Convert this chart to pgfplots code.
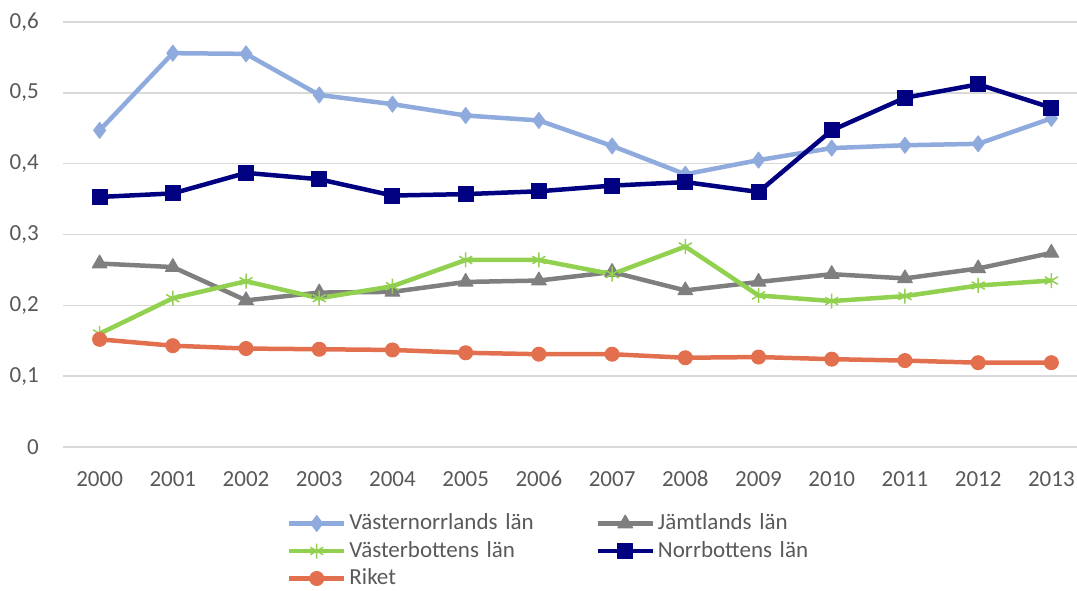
\documentclass[border=0pt]{standalone}
\usepackage{pgfplots}
\pgfplotsset{compat=1.18}
\usepackage{fontspec}
\setmainfont{Carlito}
\definecolor{cVn}{HTML}{8FAADC}
\definecolor{cJa}{HTML}{7F7F7F}
\definecolor{cVb}{HTML}{92D050}
\definecolor{cNb}{HTML}{000080}
\definecolor{cRi}{HTML}{E2704F}
\definecolor{cGrid}{HTML}{D9D9D9}
\definecolor{cTxt}{HTML}{595959}
\begin{document}
\fontsize{23}{27.6}\selectfont
\begin{tikzpicture}
\begin{axis}[
  scale only axis,
  width=1014pt, height=425pt,
  xmin=-0.5, xmax=13.35,
  ymin=0, ymax=0.6,
  clip=false,
  axis line style={draw=none},
  major tick length=0pt,
  xtick={0,1,2,3,4,5,6,7,8,9,10,11,12,13},
  xticklabels={2000,2001,2002,2003,2004,2005,2006,2007,2008,2009,2010,2011,2012,2013},
  ytick={0,0.1,0.2,0.3,0.4,0.5,0.6},
  /pgf/number format/use comma,
  /pgf/number format/fixed,
  /pgf/number format/precision=1,
  /pgf/number format/assume math mode=true,
  yticklabel style={inner sep=0pt, anchor=east, xshift=-24pt, text=cTxt, font=\fontsize{23}{27.6}\selectfont},
  xticklabel style={inner sep=0pt, anchor=north, yshift=-24pt, text=cTxt, font=\fontsize{23}{27.6}\selectfont},
  ymajorgrids=true,
  major grid style={draw=cGrid, line width=1.5pt},
  every axis plot/.append style={line width=4.5pt, line join=round},
  legend columns=2,
  legend cell align=left,
  legend image code/.code={\draw[#1,mark repeat=2,mark phase=2] plot coordinates {(0pt,0pt) (27.5pt,0pt) (55pt,0pt)};},
  legend style={at={(axis description cs:0.2209,-0.1600)}, anchor=north west,
    draw=none, fill=none, inner sep=0pt, outer sep=0pt, row sep=11.5pt,
    font=\fontsize{23}{27.6}\selectfont, text=cTxt,
    nodes={inner sep=0pt, text width=246pt, text height=14pt, text depth=2pt},
    /tikz/every odd column/.append style={column sep=3pt}},
]
\addplot[color=cVn, mark=diamond*, mark size=8pt, mark options={solid, line width=1pt, fill=cVn, draw=cVn}] coordinates {
(0,0.447) (1,0.556) (2,0.555) (3,0.497) (4,0.484) (5,0.468) (6,0.461) (7,0.425) (8,0.385) (9,0.405) (10,0.422) (11,0.426) (12,0.428) (13,0.464)};
\addlegendentry{Västernorrlands län}
\addplot[color=cJa, mark=triangle*, mark size=8.5pt, mark options={solid, line width=1pt, fill=cJa, draw=cJa}] coordinates {
(0,0.259) (1,0.254) (2,0.207) (3,0.218) (4,0.219) (5,0.233) (6,0.235) (7,0.247) (8,0.221) (9,0.233) (10,0.244) (11,0.238) (12,0.252) (13,0.274)};
\addlegendentry{Jämtlands län}
\addplot[color=cVb, mark=asterisk, mark size=7.5pt, mark options={solid, line width=1.5pt, draw=cVb}] coordinates {
(0,0.160) (1,0.210) (2,0.234) (3,0.210) (4,0.227) (5,0.264) (6,0.264) (7,0.244) (8,0.283) (9,0.214) (10,0.206) (11,0.213) (12,0.228) (13,0.235)};
\addlegendentry{Västerbottens län}
\addplot[color=cNb, mark=square*, mark size=7.5pt, mark options={solid, line width=1pt, fill=cNb, draw=cNb}] coordinates {
(0,0.353) (1,0.358) (2,0.387) (3,0.378) (4,0.355) (5,0.357) (6,0.361) (7,0.369) (8,0.374) (9,0.360) (10,0.447) (11,0.493) (12,0.512) (13,0.479)};
\addlegendentry{Norrbottens län}
\addplot[color=cRi, mark=*, mark size=7pt, mark options={solid, line width=1pt, fill=cRi, draw=cRi}] coordinates {
(0,0.152) (1,0.143) (2,0.139) (3,0.138) (4,0.137) (5,0.133) (6,0.131) (7,0.131) (8,0.126) (9,0.127) (10,0.124) (11,0.122) (12,0.119) (13,0.119)};
\addlegendentry{Riket}
\end{axis}
\pgfresetboundingbox
\useasboundingbox (-63pt,-144pt) rectangle (1014pt,447pt);
\end{tikzpicture}
\end{document}
